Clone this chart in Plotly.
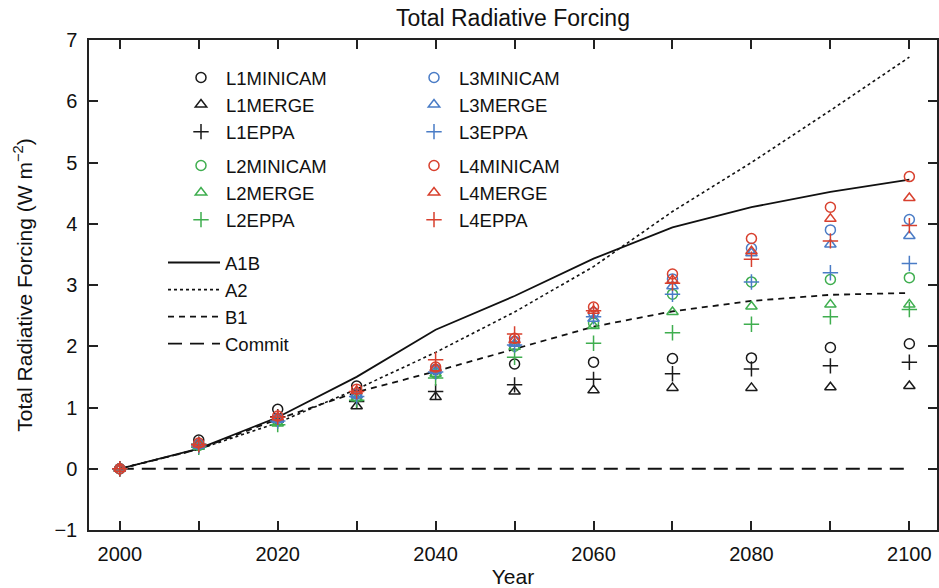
import plotly.graph_objects as go

years = [2000, 2010, 2020, 2030, 2040, 2050, 2060, 2070, 2080, 2090, 2100]

# Reference scenario curves (W m-2)
a1b = [0, 0.33, 0.84, 1.50, 2.27, 2.82, 3.43, 3.94, 4.27, 4.52, 4.72]
a2 = [0, 0.32, 0.75, 1.30, 1.90, 2.56, 3.30, 4.20, 5.00, 5.85, 6.72]
b1 = [0, 0.32, 0.81, 1.25, 1.59, 1.95, 2.32, 2.57, 2.74, 2.84, 2.87]
commit = [0, 0, 0, 0, 0, 0, 0, 0, 0, 0, 0]

# Stabilization scenarios
L1MINICAM = [0, 0.47, 0.97, 1.35, 1.62, 1.71, 1.74, 1.80, 1.81, 1.98, 2.04]
L1MERGE = [0, 0.42, 0.80, 1.02, 1.17, 1.26, 1.28, 1.32, 1.32, 1.33, 1.35]
L1EPPA = [0, 0.40, 0.85, 1.10, 1.26, 1.37, 1.46, 1.55, 1.63, 1.68, 1.74]
L2MINICAM = [0, 0.38, 0.78, 1.18, 1.56, 2.00, 2.38, 2.85, 3.05, 3.09, 3.12]
L2MERGE = [0, 0.36, 0.74, 1.15, 1.55, 1.99, 2.33, 2.56, 2.65, 2.68, 2.68]
L2EPPA = [0, 0.35, 0.72, 1.12, 1.48, 1.82, 2.05, 2.22, 2.36, 2.48, 2.60]
L3MINICAM = [0, 0.40, 0.82, 1.22, 1.62, 2.08, 2.55, 3.10, 3.60, 3.90, 4.07]
L3MERGE = [0, 0.38, 0.80, 1.20, 1.60, 2.04, 2.45, 2.98, 3.52, 3.66, 3.80]
L3EPPA = [0, 0.37, 0.78, 1.18, 1.58, 2.02, 2.48, 2.85, 3.05, 3.20, 3.35]
L4MINICAM = [0, 0.42, 0.86, 1.30, 1.66, 2.13, 2.64, 3.18, 3.76, 4.27, 4.77]
L4MERGE = [0, 0.40, 0.84, 1.27, 1.64, 2.10, 2.58, 3.08, 3.55, 4.08, 4.42]
L4EPPA = [0, 0.39, 0.84, 1.26, 1.78, 2.20, 2.58, 3.03, 3.42, 3.72, 3.97]

FONT = "Liberation Sans, Arial, sans-serif"
colors = {"L1": "#1a1a1a", "L2": "#3fae4f", "L3": "#4a7cc6", "L4": "#d8402e"}
symbols = {"MINICAM": "circle-open", "MERGE": "triangle-up-open", "EPPA": "cross-thin-open"}
sizes = {"MINICAM": 10, "MERGE": 10, "EPPA": 11}
data = {
    "L1": {"MINICAM": L1MINICAM, "MERGE": L1MERGE, "EPPA": L1EPPA},
    "L2": {"MINICAM": L2MINICAM, "MERGE": L2MERGE, "EPPA": L2EPPA},
    "L3": {"MINICAM": L3MINICAM, "MERGE": L3MERGE, "EPPA": L3EPPA},
    "L4": {"MINICAM": L4MINICAM, "MERGE": L4MERGE, "EPPA": L4EPPA},
}
legend_of = {"L1": "legend", "L2": "legend2", "L3": "legend3", "L4": "legend4"}

fig = go.Figure()

line_specs = [("A1B", a1b, "solid", 1.8), ("A2", a2, "dot", 1.6),
              ("B1", b1, "6px,5px", 1.8), ("Commit", commit, "14px,8px", 1.8)]
for name, ys, dash, w in line_specs:
    fig.add_trace(go.Scatter(x=years, y=ys, mode="lines", name=name,
                             line=dict(color="#111111", width=w, dash=dash),
                             legend="legend5"))

for grp in ["L1", "L2", "L3", "L4"]:
    for model in ["MINICAM", "MERGE", "EPPA"]:
        fig.add_trace(go.Scatter(
            x=years, y=data[grp][model], mode="markers", name=grp + model,
            marker=dict(symbol=symbols[model], size=sizes[model], color=colors[grp],
                        line=dict(color=colors[grp], width=1.5)),
            legend=legend_of[grp]))

L, R, T, B = 89, 937, 40, 530

def leg(x, y, iw=40):
    return dict(x=(x - L) / (R - L), y=(B - y) / (B - T), xref="paper", yref="paper",
                xanchor="left", yanchor="top", bgcolor="rgba(0,0,0,0)",
                font=dict(family=FONT, size=18.5, color="#111111"),
                itemwidth=iw, tracegroupgap=0)

fig.update_layout(
    width=939, height=588,
    margin=dict(l=L, r=939 - R, t=T, b=588 - B, autoexpand=False),
    paper_bgcolor="white", plot_bgcolor="white",
    font=dict(family=FONT, size=19, color="#111111"),
    title=dict(text="Total Radiative Forcing", x=(L + R) / 2 / 939, xanchor="center",
               y=1 - 18 / 588, yanchor="middle", font=dict(family=FONT, size=23)),
    legend=leg(176, 59),
    legend2=leg(176, 147),
    legend3=leg(409, 59),
    legend4=leg(409, 147),
    legend5=leg(163, 244, 52),
    xaxis=dict(range=[1996.1, 2103.5], tickvals=[2000, 2020, 2040, 2060, 2080, 2100],
               ticks="inside", ticklen=9, tickwidth=1.5, tickcolor="#222",
               minor=dict(tickvals=[2010, 2030, 2050, 2070, 2090], ticks="inside",
                          ticklen=9, tickwidth=1.5, tickcolor="#222"),
               showline=True, linecolor="#222", linewidth=1.5, mirror="ticks",
               showgrid=False, zeroline=False, ticklabelstandoff=5,
               title=dict(text="Year", standoff=6, font=dict(size=21)),
               tickfont=dict(size=20)),
    yaxis=dict(range=[-1, 7], dtick=1, ticks="inside", ticklen=9, tickwidth=1.5,
               tickcolor="#222", showline=True, linecolor="#222", linewidth=1.5,
               mirror="ticks", showgrid=False, zeroline=False, tickformat="d",
               ticklabelstandoff=6,
               title=dict(text="Total Radiative Forcing (W m<sup>\u22122</sup>)",
                          standoff=16, font=dict(size=21)),
               tickfont=dict(size=20)),
)

fig.write_html("out.html")
